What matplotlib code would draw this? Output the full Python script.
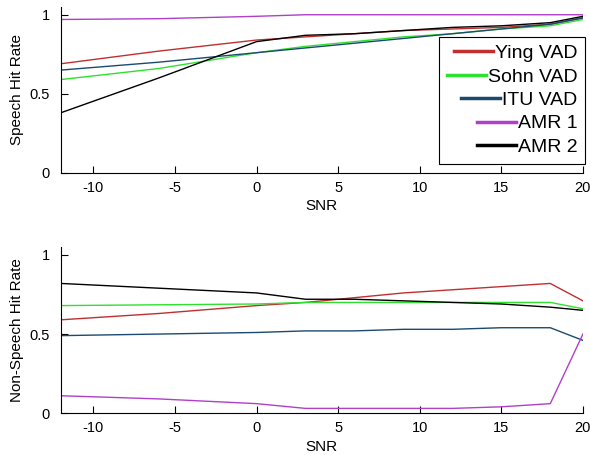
import matplotlib
matplotlib.use("Agg")
import matplotlib.pyplot as plt

plt.rcParams['font.family'] = ['Liberation Sans', 'DejaVu Sans']
plt.rcParams['axes.unicode_minus'] = False

snr = [-12, -6, 0, 3, 6, 9, 12, 15, 18, 20]
series_names = ["Ying VAD", "Sohn VAD", "ITU VAD", "AMR 1", "AMR 2"]

speech_ying = [0.69, 0.77, 0.84, 0.86, 0.88, 0.90, 0.91, 0.92, 0.94, 0.98]
speech_sohn = [0.59, 0.66, 0.76, 0.80, 0.83, 0.86, 0.88, 0.91, 0.93, 0.97]
speech_itu = [0.65, 0.70, 0.76, 0.79, 0.82, 0.85, 0.88, 0.91, 0.94, 0.98]
speech_amr1 = [0.97, 0.975, 0.99, 1.0, 1.0, 1.0, 1.0, 1.0, 1.0, 1.0]
speech_amr2 = [0.38, 0.60, 0.83, 0.87, 0.88, 0.90, 0.92, 0.93, 0.95, 0.99]

nonspeech_ying = [0.59, 0.63, 0.68, 0.70, 0.73, 0.76, 0.78, 0.80, 0.82, 0.71]
nonspeech_sohn = [0.68, 0.685, 0.69, 0.70, 0.70, 0.70, 0.70, 0.70, 0.70, 0.66]
nonspeech_itu = [0.49, 0.50, 0.51, 0.52, 0.52, 0.53, 0.53, 0.54, 0.54, 0.46]
nonspeech_amr1 = [0.11, 0.09, 0.06, 0.03, 0.03, 0.03, 0.03, 0.04, 0.06, 0.50]
nonspeech_amr2 = [0.82, 0.79, 0.76, 0.72, 0.72, 0.71, 0.70, 0.69, 0.67, 0.65]

colors = ["#c03030", "#30e030", "#1a4a70", "#b040c8", "#000000"]

x_ticks = [-10, -5, 0, 5, 10, 15, 20]
y_ticks = [0, 0.5, 1]
y_ticklabels = ["0", "0.5", "1"]

fig = plt.figure(figsize=(5.9, 4.55), dpi=100)
ax1 = fig.add_axes([0.103, 0.620, 0.885, 0.365])
ax2 = fig.add_axes([0.103, 0.092, 0.885, 0.365])

top_data = [speech_ying, speech_sohn, speech_itu, speech_amr1, speech_amr2]
bot_data = [nonspeech_ying, nonspeech_sohn, nonspeech_itu, nonspeech_amr1, nonspeech_amr2]

for ax, data, ylabel in [(ax1, top_data, "Speech Hit Rate"), (ax2, bot_data, "Non-Speech Hit Rate")]:
    for vals, c, name in zip(data, colors, series_names):
        ax.plot(snr, vals, color=c, lw=1.0, label=name)
    ax.set_xlim(-12, 20)
    ax.set_ylim(0, 1.05)
    ax.set_xticks(x_ticks)
    ax.set_yticks(y_ticks)
    ax.set_yticklabels(y_ticklabels)
    ax.tick_params(direction='in', length=5, labelsize=10.5, width=0.8)
    ax.tick_params(axis='x', pad=6)
    ax.tick_params(axis='y', pad=8)
    for s in ['top', 'right']:
        ax.spines[s].set_visible(False)
    ax.set_xlabel("SNR", fontsize=11, labelpad=3)
    ax.set_ylabel(ylabel, fontsize=11, labelpad=4)

leg = ax1.legend(loc='upper right', bbox_to_anchor=(1.004, 0.82),
                 fancybox=False, framealpha=1, edgecolor='black',
                 handlelength=2.0, handletextpad=0.1, borderpad=0.4, labelspacing=0.3,
                 borderaxespad=0, prop={'size': 14})
for line in leg.get_lines():
    line.set_linewidth(2.5)
leg.get_frame().set_linewidth(0.8)
for col in leg._legend_handle_box.get_children():
    col.align = 'right'

fig.savefig("out.png", dpi=100)
